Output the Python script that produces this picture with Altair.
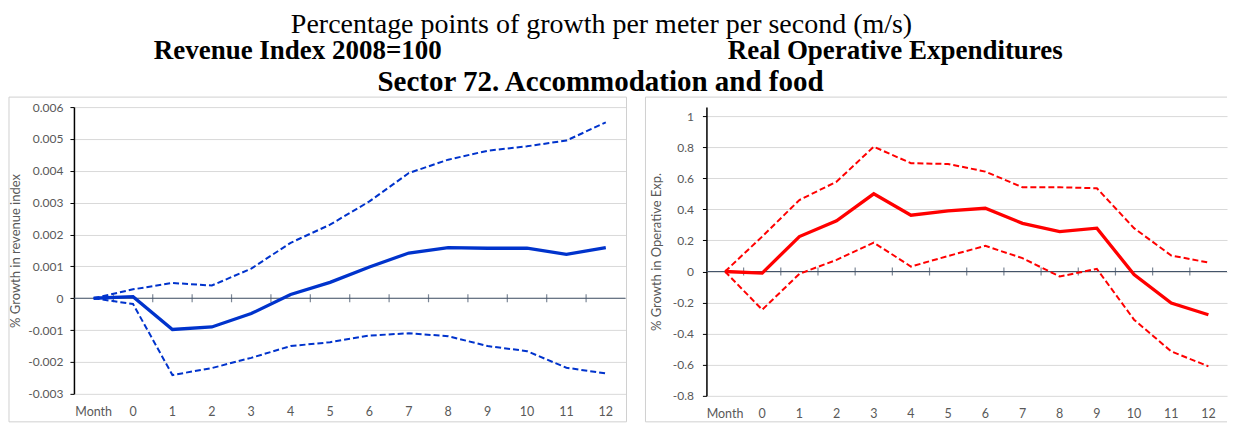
import altair as alt
import pandas as pd

# ---------------- data ----------------
MONTHS = ["Month", "0", "1", "2", "3", "4", "5", "6", "7", "8", "9", "10", "11", "12"]

REV_EST = [0, 0.00005, -0.00098, -0.0009, -0.00048, 0.00012, 0.0005, 0.00098,
           0.00142, 0.00159, 0.00157, 0.00157, 0.00138, 0.00159]
REV_UPPER = [0, 0.00028, 0.00048, 0.0004, 0.00093, 0.00174, 0.00231, 0.00304,
             0.00393, 0.00435, 0.00463, 0.00477, 0.00495, 0.00552]
REV_LOWER = [0, -0.00018, -0.00241, -0.00219, -0.00187, -0.0015, -0.00138, -0.00117,
             -0.0011, -0.00119, -0.0015, -0.00166, -0.00218, -0.00236]

OPX_EST = [0, -0.01, 0.225, 0.326, 0.5, 0.362, 0.39, 0.407,
           0.31, 0.257, 0.279, -0.02, -0.203, -0.278]
OPX_UPPER = [0, 0.225, 0.46, 0.578, 0.803, 0.697, 0.692, 0.643,
             0.542, 0.542, 0.536, 0.279, 0.103, 0.058]
OPX_LOWER = [0, -0.246, -0.015, 0.075, 0.186, 0.032, 0.1, 0.165,
             0.086, -0.032, 0.017, -0.31, -0.514, -0.61]

REV_TICKS = [-0.003, -0.002, -0.001, 0, 0.001, 0.002, 0.003, 0.004, 0.005, 0.006]
OPX_TICKS = [-0.8, -0.6, -0.4, -0.2, 0, 0.2, 0.4, 0.6, 0.8, 1]
REV_DOMAIN = [-0.003, 0.006]
OPX_DOMAIN = [-0.8, 1.058]

TITLE_MAIN = "Percentage points of growth per meter per second (m/s)"
TITLE_LEFT = "Revenue Index 2008=100"
TITLE_RIGHT = "Real Operative Expenditures"
TITLE_SECTOR = "Sector 72. Accommodation and food"
YTITLE_LEFT = "% Growth in revenue index"
YTITLE_RIGHT = "% Growth in Operative Exp."

# ---------------- styles ----------------
LABEL_FONT = "Lato"
GRAY = "#595959"
SLATE = "#44546A"
GRID = "#D9D9D9"
BORDER = "#D0D0D0"
SERIF = "Liberation Serif"

one = pd.DataFrame({"k": [0]})


def htext(txt, x, y, size, bold):
    return alt.Chart(one).mark_text(
        text=txt, font=SERIF, fontSize=size, fontWeight="bold" if bold else "normal",
        align="center", baseline="alphabetic", color="black"
    ).encode(x=alt.value(x), y=alt.value(y))


def hline(x1, x2, y):
    return alt.Chart(one).mark_rule(color=BORDER, strokeWidth=1).encode(
        x=alt.value(x1), x2=alt.value(x2), y=alt.value(y))


def vline(x, y1, y2):
    return alt.Chart(one).mark_rule(color=BORDER, strokeWidth=1).encode(
        x=alt.value(x), y=alt.value(y1), y2=alt.value(y2))


def make_panel(est, upper, lower, color, yticks, ydomain, ytitle, label_expr,
               width, height, border, lab_pad, title_pad, extra=()):
    n = len(MONTHS)
    df = pd.DataFrame({
        "month": MONTHS * 3,
        "idx": list(range(n)) * 3,
        "series": ["est"] * n + ["upper"] * n + ["lower"] * n,
        "value": list(est) + list(upper) + list(lower),
    })
    xscale = alt.Scale(domain=MONTHS, paddingInner=0, paddingOuter=0)
    yscale = alt.Scale(domain=ydomain, nice=False, zero=False)
    x_axis = alt.Axis(title=None, labelAngle=0, domain=False, ticks=False,
                      grid=False, labelPadding=12, labelColor=GRAY,
                      labelFont=LABEL_FONT, labelFontSize=12.5)
    y_axis = alt.Axis(values=yticks, title=ytitle, labelExpr=label_expr,
                      grid=True, gridColor=GRID, gridWidth=1,
                      domainColor="black", domainWidth=1.5,
                      tickColor="black", tickSize=4, tickWidth=1,
                      labelPadding=lab_pad, labelColor=GRAY, labelFont=LABEL_FONT,
                      labelFontSize=12, titleColor=GRAY, titleFont=LABEL_FONT,
                      titleFontSize=13, titleFontWeight="normal",
                      titlePadding=title_pad)
    x_enc = alt.X("month:N", sort=MONTHS, scale=xscale, axis=x_axis)
    y_enc = alt.Y("value:Q", scale=yscale, axis=y_axis)
    base = alt.Chart(df)

    zero = alt.Chart(one).mark_rule(color=SLATE, strokeWidth=1.2).encode(
        y=alt.YDatum(0, scale=yscale, axis=y_axis))

    ticks = base.transform_filter(
        (alt.datum.series == "est") & (alt.datum.month != "Month")
    ).mark_tick(orient="vertical", size=8, thickness=1.2, color=SLATE).encode(
        x=alt.X("month:N", sort=MONTHS, scale=xscale, bandPosition=0, axis=x_axis),
        y=alt.YDatum(0, scale=yscale, axis=y_axis))

    dashed = base.transform_filter(alt.datum.series != "est").mark_line(
        color=color, strokeWidth=2, strokeDash=[6, 3]).encode(
        x=x_enc, y=y_enc, detail="series:N", order="idx:Q")

    solid = base.transform_filter(alt.datum.series == "est").mark_line(
        color=color, strokeWidth=3.3).encode(x=x_enc, y=y_enc, order="idx:Q")

    return alt.layer(*border, zero, ticks, dashed, solid, *extra).properties(
        width=width, height=height)


headers = [
    htext(TITLE_MAIN, 528, -74, 28, False),
    htext(TITLE_LEFT, 224, -48, 27, True),
    htext(TITLE_RIGHT, 822, -48, 27, True),
    htext(TITLE_SECTOR, 527, -16, 29, True),
]

LW, LH = 552, 287
RW, RH = 521, 289

left_border = [
    hline(-65, LW + 1, -10), hline(-65, LW + 1, LH + 28),
    vline(-65, -10, LH + 28), vline(LW + 1, -10, LH + 28),
]
right_border = [
    hline(-61, RW, -10), hline(-61, RW, RH + 26), vline(-61, -10, RH + 26),
]

left = make_panel(REV_EST, REV_UPPER, REV_LOWER, "#0033CC", REV_TICKS, REV_DOMAIN,
                  YTITLE_LEFT, "toString(round(datum.value*1000)/1000)",
                  LW, LH, left_border, 7, 5, extra=headers)
right = make_panel(OPX_EST, OPX_UPPER, OPX_LOWER, "#FF0000", OPX_TICKS, OPX_DOMAIN,
                   YTITLE_RIGHT, "toString(round(datum.value*10)/10)",
                   RW, RH, right_border, 9, 9)

chart = alt.hconcat(left, right, spacing=81, bounds="flush").properties(
    padding={"top": 3, "left": 0, "right": 0, "bottom": 0}
).configure(background="white").configure_view(stroke=None)

chart.save("out.html", embed_options={"renderer": "svg", "actions": False})
